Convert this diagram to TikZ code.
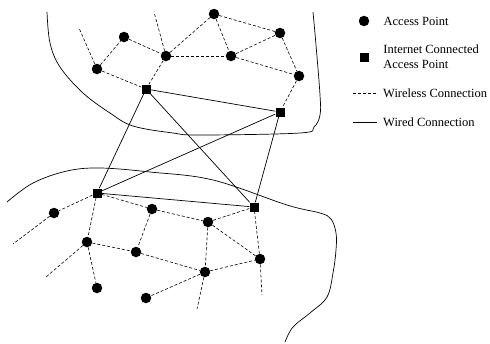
\documentclass[tikz,border=0pt]{standalone}
\usepackage{fontspec}
\setmainfont{Liberation Serif}
\usetikzlibrary{positioning}

\begin{document}
\begin{tikzpicture}[x=1pt, y=-1pt,
  ap/.style={circle, fill=black, inner sep=0pt, minimum size=10.5pt},
  iap/.style={rectangle, fill=black, inner sep=0pt, minimum size=9pt},
  wl/.style={dash pattern=on 3pt off 2pt, line width=0.6pt},
  wd/.style={line width=0.7pt},
  lbl/.style={anchor=west, align=left, inner sep=0pt,
              font=\fontsize{12.5}{15}\selectfont}]
  \useasboundingbox (0,0) rectangle (490,343);
  % region outlines
  \draw[wd] plot[smooth, tension=0.6] coordinates {(47,12) (50,43) (60,67) (83,93)
    (110,113) (133,126) (173,133) (200,135) (300,133) (314,127) (320,115) (320,95)
    (316,45) (313,12)};
  \draw[wd] plot[smooth, tension=0.6] coordinates {(7,202) (33,183) (67,171) (100,168)
    (150,172) (213,180) (287,205) (320,213) (331,219) (336,233) (336,250) (333,273)
    (327,297) (310,313) (293,327) (285,342)};
  % upper network
  \node[ap] (a1) at (97,69) {};
  \node[ap] (a2) at (124,37) {};
  \node[ap] (a3) at (166,56) {};
  \node[ap] (a4) at (214,14) {};
  \node[ap] (a5) at (231,56) {};
  \node[ap] (a6) at (280,33) {};
  \node[ap] (a7) at (299,76) {};
  \node[iap] (s1) at (146,89) {};
  \node[iap] (s2) at (280,112) {};
  \coordinate (e1) at (79,28);
  \coordinate (e2) at (154,12);
  % lower network
  \node[iap] (b1) at (97,193) {};
  \node[iap] (b2) at (254,207) {};
  \node[ap] (c1) at (54,213) {};
  \node[ap] (c2) at (152,209) {};
  \node[ap] (c3) at (208,222) {};
  \node[ap] (c4) at (87,242) {};
  \node[ap] (c5) at (136,252) {};
  \node[ap] (c6) at (205,272) {};
  \node[ap] (c7) at (260,259) {};
  \node[ap] (c8) at (97,288) {};
  \node[ap] (c9) at (146,298) {};
  \coordinate (e3) at (13,244);
  \coordinate (e4) at (46,277);
  \coordinate (e5) at (197,309);
  \coordinate (e6) at (262,295);
  % wireless links
  \foreach \u/\v in {a1/a2, a1/s1, a2/a3, a3/s1, a3/a4, a3/a5, a4/a5, a4/a6, a5/a6,
    a5/a7, a6/a7, a7/s2, a1/e1, a3/e2, b1/c1, b1/c2, b1/c4, c2/c3, c2/c5, c3/b2,
    c3/c6, c3/c7, c4/c5, c4/c8, c5/c6, c6/c7, c6/c9, c7/b2, c1/e3, c4/e4, c6/e5, c7/e6}
    \draw[wl] (\u) -- (\v);
  % wired links
  \foreach \u/\v in {s1/s2, s1/b1, s1/b2, s2/b1, s2/b2, b1/b2}
    \draw[wd] (\u) -- (\v);
  % legend
  \node[ap] (kap) at (364,21) {};
  \node[iap] (kiap) at (364,57) {};
  \coordinate (kwl) at (353,93); \coordinate (kwl2) at (377,93);
  \coordinate (kwd) at (353,122); \coordinate (kwd2) at (377,122);
  \draw[wl] (kwl) -- (kwl2);
  \draw[wd] (kwd) -- (kwd2);
  \node[lbl, right=14pt of kap] {Access Point};
  \node[lbl, right=14.5pt of kiap] {Internet Connected\\Access Point};
  \node[lbl, right=6pt of kwl2] {Wireless Connection};
  \node[lbl, right=6pt of kwd2] {Wired Connection};
\end{tikzpicture}
\end{document}
